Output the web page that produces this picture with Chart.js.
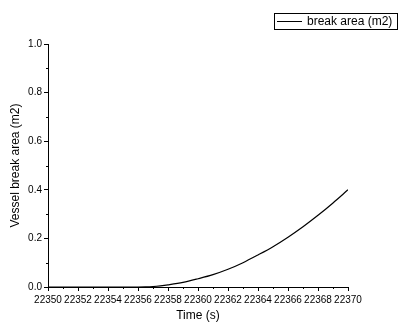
<!DOCTYPE html>
<html>
<head>
<meta charset="utf-8">
<script src="https://cdn.jsdelivr.net/npm/chart.js@4/dist/chart.umd.min.js"></script>
<style>
  html, body { margin: 0; padding: 0; background: #fff; }
  #wrap { width: 400px; height: 323px; position: relative; }
</style>
</head>
<body>
<div id="wrap"><canvas id="chart"></canvas></div>
<script>
// time (s) and break area (m2)
const times = [22350, 22351, 22352, 22353, 22354, 22355, 22356, 22356.5, 22357, 22357.5,
  22358, 22359, 22360, 22361, 22362, 22363, 22364, 22365, 22366, 22367, 22368, 22369, 22370];
const breakArea = [0, 0, 0, 0, 0, 0, 0, 0.0005, 0.002, 0.005,
  0.009, 0.019, 0.034, 0.051, 0.073, 0.100, 0.132, 0.166, 0.205, 0.248, 0.295, 0.346, 0.400];
const seriesLabel = 'break area (m2)';
const xTitle = 'Time (s)';
const yTitle = 'Vessel break area (m2)';

const FONT = 'Arial, "Liberation Sans", sans-serif';

// minor ticks between the major ones + a boxed legend top right
const extras = {
  id: 'extras',
  afterDraw(chart) {
    const ctx = chart.ctx;
    const xs = chart.scales.x, ys = chart.scales.y;
    ctx.save();
    ctx.strokeStyle = '#000';
    ctx.lineWidth = 1;
    ctx.beginPath();
    for (let v = 22351; v < 22370; v += 2) {
      const px = Math.round(xs.getPixelForValue(v)) + 0.5;
      ctx.moveTo(px, ys.bottom);
      ctx.lineTo(px, ys.bottom + 2);
    }
    for (let v = 0.1; v < 1; v += 0.2) {
      const py = Math.round(ys.getPixelForValue(v)) + 0.5;
      ctx.moveTo(xs.left, py);
      ctx.lineTo(xs.left - 2, py);
    }
    ctx.stroke();

    // legend
    ctx.strokeRect(274.5, 13.5, 123, 16);
    ctx.beginPath();
    ctx.moveTo(277, 21.5);
    ctx.lineTo(302, 21.5);
    ctx.stroke();
    ctx.fillStyle = '#000';
    ctx.font = '12px ' + FONT;
    ctx.textBaseline = 'middle';
    ctx.fillText(seriesLabel, 307, 22);
    ctx.restore();
  }
};

new Chart(document.getElementById('chart'), {
  type: 'line',
  data: {
    labels: times,
    datasets: [{
      label: seriesLabel,
      data: times.map((t, i) => ({ x: t, y: breakArea[i] })),
      borderColor: '#000',
      borderWidth: 1.2,
      pointRadius: 0,
      fill: false,
      cubicInterpolationMode: 'monotone'
    }]
  },
  options: {
    responsive: true,
    maintainAspectRatio: false,
    animation: false,
    layout: { padding: { left: 8, right: 52, top: 44, bottom: 0 } },
    plugins: { legend: { display: false }, tooltip: { enabled: false } },
    scales: {
      x: {
        type: 'linear',
        min: 22350,
        max: 22370,
        afterFit: s => { s.height = 36; },
        border: { display: true, color: '#000', width: 1 },
        grid: { drawOnChartArea: false, drawTicks: true, tickLength: 4, tickColor: '#000' },
        ticks: {
          stepSize: 2,
          color: '#000',
          padding: 3,
          maxRotation: 0,
          autoSkip: false,
          font: { family: FONT, size: 10 },
          callback: v => String(v)
        },
        title: { display: true, text: xTitle, color: '#000', font: { family: FONT, size: 12 }, padding: { top: 2, bottom: 0 } }
      },
      y: {
        min: 0,
        max: 1,
        afterFit: s => { s.width = 40; },
        border: { display: true, color: '#000', width: 1 },
        grid: { drawOnChartArea: false, drawTicks: true, tickLength: 4, tickColor: '#000' },
        ticks: {
          stepSize: 0.2,
          color: '#000',
          padding: 2,
          font: { family: FONT, size: 10 },
          callback: v => v.toFixed(1)
        },
        title: { display: true, text: yTitle, color: '#000', font: { family: FONT, size: 12 }, padding: { top: 0, bottom: 4 } }
      }
    }
  },
  plugins: [extras]
});
</script>
</body>
</html>
